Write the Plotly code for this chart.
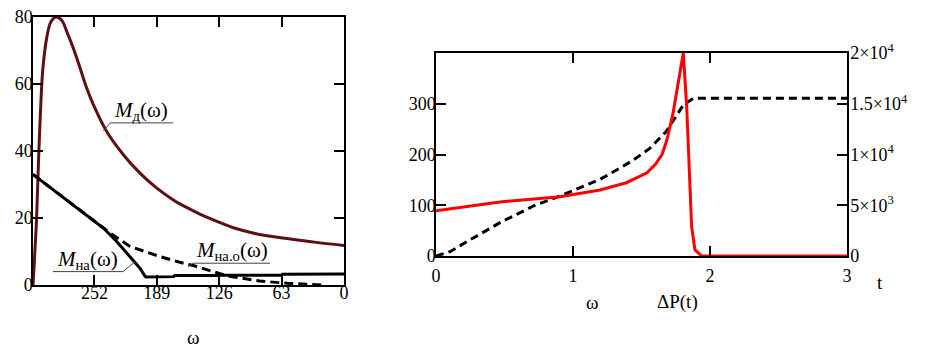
import plotly.graph_objects as go

# ---------------- data: left chart (torque vs speed) ----------------
w_md = [314, 313, 310.3, 308, 305, 303.6, 300.2, 296, 290.8, 285, 280, 273.3, 266.5, 259.8,
        253, 239.6, 222.8, 206, 189, 172.3, 158, 145, 135, 120, 111.7, 90, 61.5, 30, 0]
m_d = [0, 5, 20.5, 40.5, 60.6, 66, 73.7, 78.5, 80, 79, 75.7, 70.7, 64.8, 58.8,
       53.8, 45.8, 38.9, 33.4, 28.9, 25.4, 23.0, 21.1, 19.8, 18.0, 17.1, 15.4, 14.0, 12.8, 11.8]

w_na = [314, 290, 265, 243, 229.5, 216, 206, 201, 200, 172, 171, 127, 126, 63, 62, 0]
m_na = [33, 27.6, 22, 17, 13, 8.5, 5, 2.7, 2.4, 2.5, 2.8, 2.8, 2.9, 2.9, 3.2, 3.3]

w_nao = [314, 290, 265, 243, 236, 216, 186, 158.7, 152, 118, 85, 57, 40, 21]
m_nao = [33, 27.6, 22, 17, 15.5, 11.5, 8.5, 6.2, 5.8, 2.7, 1.2, 0.5, 0.3, 0]

left_xticks = [252, 189, 126, 63, 0]
left_yticks = [0, 20, 40, 60, 80]

# ---------------- data: right chart (time response) ----------------
t_w = [0, 0.102, 0.224, 0.345, 0.467, 0.589, 0.71, 0.905, 1.075, 1.197, 1.318, 1.44,
       1.56, 1.68, 1.805, 1.85, 1.88, 3.0]
w_t = [0, 8.5, 28, 46.6, 65.7, 82, 98.5, 118, 136.6, 151, 169.5, 189,
       212, 245, 297.5, 306, 311, 311]

t_p = [0, 0.467, 0.905, 1.197, 1.39, 1.54, 1.6, 1.65, 1.685, 1.73, 1.78, 1.805,
       1.83, 1.85, 1.866, 1.89, 1.94, 3.0]
dp_t = [4460, 5320, 5840, 6500, 7220, 8200, 9000, 10000, 11400, 14050, 18000, 20000,
        14700, 8150, 2900, 600, 0, 0]

right_xticks = [0, 1, 2, 3]
right_yticks = [0, 100, 200, 300]
right_y2ticks = [0, 5000, 10000, 15000, 20000]
right_y2text = ["0", "5×10<sup>3</sup>", "1×10<sup>4</sup>", "1.5×10<sup>4</sup>", "2×10<sup>4</sup>"]

FONT = "'Liberation Serif', 'Times New Roman', serif"
MAROON = "#5c1016"
OFF = 8  # default page margin of the html body


def fx(px):
    return (px - OFF) / 925


def fy(py):
    return 1 - (py - OFF) / 349


fig = go.Figure()
fig.add_trace(go.Scatter(x=w_md, y=m_d, mode="lines",
                         line=dict(color=MAROON, width=3, shape="spline", smoothing=1.0),
                         xaxis="x", yaxis="y"))
fig.add_trace(go.Scatter(x=w_nao, y=m_nao, mode="lines", line=dict(color="black", width=3, dash="9px,5px"),
                         xaxis="x", yaxis="y"))
fig.add_trace(go.Scatter(x=w_na, y=m_na, mode="lines", line=dict(color="black", width=3),
                         xaxis="x", yaxis="y"))

fig.add_trace(go.Scatter(x=t_w, y=w_t, mode="lines", line=dict(color="black", width=3, dash="8px,5px"),
                         xaxis="x2", yaxis="y2"))
fig.add_trace(go.Scatter(x=t_p, y=dp_t, mode="lines", line=dict(color="#ff0000", width=3),
                         xaxis="x2", yaxis="y3"))

axis_common = dict(showgrid=False, zeroline=False, showline=True, linecolor="black", linewidth=1.5,
                   ticks="inside", ticklen=10, tickwidth=1.5, tickcolor="black", automargin=False,
                   ticklabeloverflow="allow",
                   tickfont=dict(family=FONT, size=18, color="black"))

fig.update_layout(
    template="none",
    width=925, height=349, autosize=False,
    margin=dict(l=0, r=0, t=0, b=0, pad=0),
    paper_bgcolor="white", plot_bgcolor="white",
    font=dict(family=FONT, size=18, color="black"),
    showlegend=False,
    xaxis=dict(domain=[fx(33), fx(344)], range=[314, 0], tickvals=left_xticks, mirror="ticks",
               anchor="y", ticklabelstandoff=-9, **axis_common),
    yaxis=dict(domain=[fy(285), fy(17)], range=[0, 80], tickvals=left_yticks, mirror="ticks",
               anchor="x", ticklabelstandoff=-5, **axis_common),
    xaxis2=dict(domain=[fx(436), fx(847)], range=[0, 3], tickvals=right_xticks, mirror="ticks",
                anchor="y2", ticklabelstandoff=3, **axis_common),
    yaxis2=dict(domain=[fy(256), fy(53)], range=[0, 400], tickvals=right_yticks, mirror=False,
                anchor="x2", ticklabelstandoff=-5, **axis_common),
    yaxis3=dict(range=[0, 20000], tickvals=right_y2ticks, ticktext=right_y2text, overlaying="y2",
                side="right", anchor="x2", ticklabelstandoff=-2, **axis_common),
)

ann_font = dict(family=FONT, size=21, color="black")
ann = []
# curve labels (data coords, left chart)
ann.append(dict(x=205, y=52, xref="x", yref="y", text="<i>M</i><sub>д</sub>(ω)", showarrow=False, font=ann_font,
                xanchor="center", yanchor="middle"))
ann.append(dict(x=259, y=7.5, xref="x", yref="y", text="<i>M</i><sub>на</sub>(ω)", showarrow=False, font=ann_font,
                xanchor="center", yanchor="middle"))
ann.append(dict(x=113, y=10, xref="x", yref="y", text="<i>M</i><sub>на.о</sub>(ω)", showarrow=False, font=ann_font,
                xanchor="center", yanchor="middle"))
# axis titles
tfont = dict(family=FONT, size=19, color="black")
for px, py, txt in [(193, 337, "ω"), (592, 302, "ω"), (677, 302, "ΔP(t)"), (880, 282, "t")]:
    ann.append(dict(x=fx(px), y=fy(py), xref="paper", yref="paper", text=txt, showarrow=False, font=tfont,
                    xanchor="center", yanchor="middle"))
fig.update_layout(annotations=ann)

lead = dict(color="#444444", width=1)
shapes = [
    dict(type="line", xref="x", yref="y", x0=236, y0=48.4, x1=172.6, y1=48.4, line=lead),
    dict(type="line", xref="x", yref="y", x0=236, y0=48.4, x1=243, y1=46, line=lead),
    dict(type="line", xref="x", yref="y", x0=294, y0=4, x1=223, y1=4, line=lead),
    dict(type="line", xref="x", yref="y", x0=223, y0=4, x1=211, y1=7, line=lead),
    dict(type="line", xref="x", yref="y", x0=152.4, y0=6.5, x1=74.6, y1=6.5, line=lead),
    dict(type="line", xref="x", yref="y", x0=152.4, y0=6.5, x1=157.4, y1=5.5, line=lead),
]
fig.update_layout(shapes=shapes)

fig.write_html("out.html")
